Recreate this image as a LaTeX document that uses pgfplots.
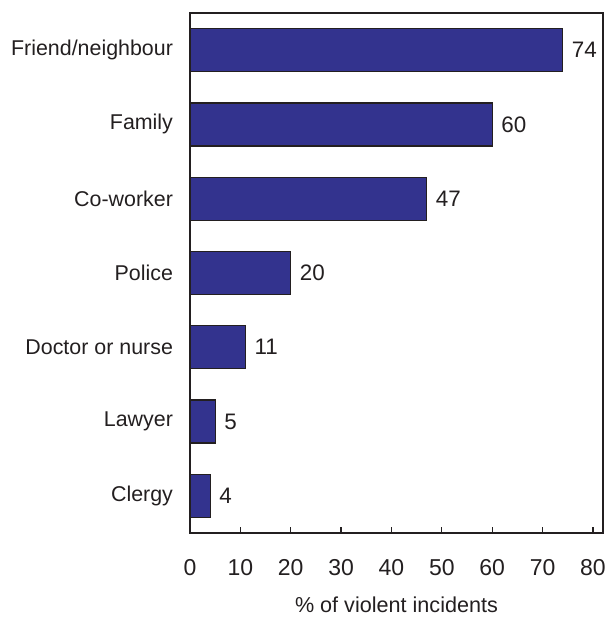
\documentclass[border=0pt]{standalone}
\usepackage{pgfplots}
\pgfplotsset{compat=1.18}
\usepackage{fontspec}
\setmainfont{Liberation Sans}
\definecolor{barblue}{RGB}{51,51,142}
\definecolor{ink}{RGB}{35,31,32}

\begin{document}
\begin{tikzpicture}
\begin{axis}[
    name=ax,
    scale only axis,
    width=206.5pt, height=260pt,
    xbar, bar width=21.5pt,
    xmin=0, xmax=82, ymin=-0.5, ymax=6.5,
    xtick={0,10,...,80},
    ytick={0,...,6},
    yticklabels={Clergy,Lawyer,Doctor or nurse,Police,Co-worker,Family,Friend/neighbour},
    xtick pos=lower, xtick align=inside,
    major tick length=3pt,
    ytick style={draw=none},
    axis line style={line width=0.6pt, ink},
    every tick/.style={line width=0.6pt, ink},
    tick label style={font=\fontsize{11.5}{13}\selectfont, text=ink},
    yticklabel style={font=\fontsize{10.7}{13}\selectfont, xshift=-2pt},
    xticklabel style={yshift=-9.5pt},
    xlabel={\% of violent incidents},
    xlabel style={font=\fontsize{10.8}{13}\selectfont, text=ink, yshift=-4pt},
    /pgf/number format/assume math mode=true,
    nodes near coords,
    nodes near coords style={font=\fontsize{11.2}{13}\selectfont, text=ink, anchor=west, xshift=1pt},
]
\addplot[fill=barblue, draw=ink, line width=0.6pt] coordinates {
    (4,0) (5,1) (11,2) (20,3) (47,4) (60,5) (74,6)
};
\end{axis}
\pgfresetboundingbox
\useasboundingbox ([shift={(-95pt,-42pt)}]ax.south west) rectangle ([shift={(2pt,6.5pt)}]ax.north east);
\end{tikzpicture}
\end{document}
